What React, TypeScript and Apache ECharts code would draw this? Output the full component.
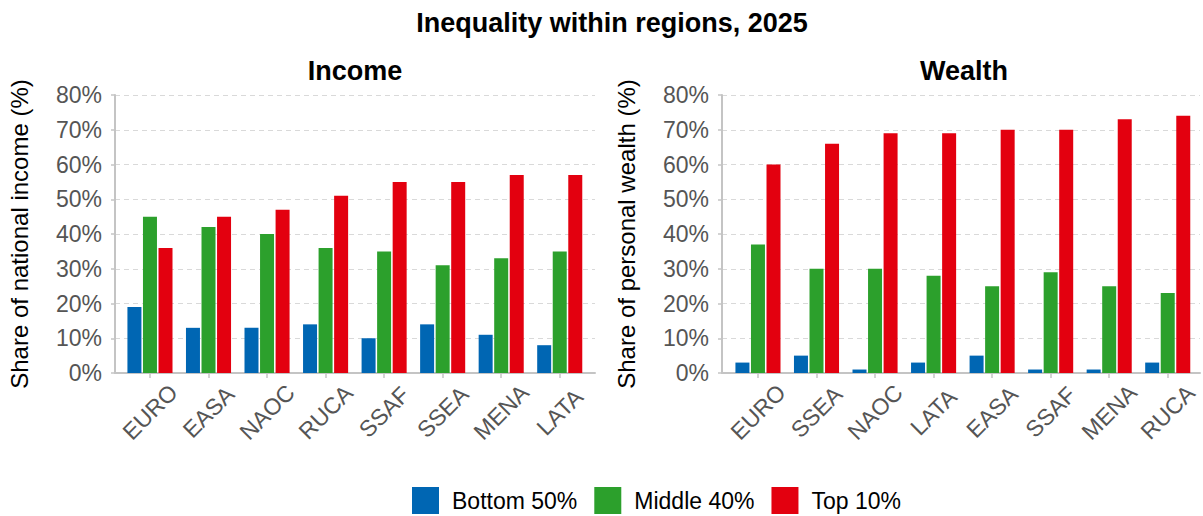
import React, { useEffect, useRef } from "react";
import * as echarts from "echarts";

const incomeRegions = ["EURO", "EASA", "NAOC", "RUCA", "SSAF", "SSEA", "MENA", "LATA"];
const incomeBottom50 = [19, 13, 13, 14, 10, 14, 11, 8];
const incomeMiddle40 = [45, 42, 40, 36, 35, 31, 33, 35];
const incomeTop10 = [36, 45, 47, 51, 55, 55, 57, 57];

const wealthRegions = ["EURO", "SSEA", "NAOC", "LATA", "EASA", "SSAF", "MENA", "RUCA"];
const wealthBottom50 = [3, 5, 1, 3, 5, 1, 1, 3];
const wealthMiddle40 = [37, 30, 30, 28, 25, 29, 25, 23];
const wealthTop10 = [60, 66, 69, 69, 70, 70, 73, 74];

const yTicks = [0, 10, 20, 30, 40, 50, 60, 70, 80];

const seriesNames = ["Bottom 50%", "Middle 40%", "Top 10%"];
const colors = ["#0066b3", "#2ca02c", "#e3000f"];

const FONT = "'Liberation Sans', Arial, sans-serif";

export default function App() {
  const ref = useRef<HTMLDivElement>(null);
  useEffect(() => {
    if (!ref.current) return;
    const chart = echarts.init(ref.current, null, { renderer: "svg" });
    const axisGray = "#c4c4c4";
    const labelGray = "#555555";
    const yMin = yTicks[0];
    const yMax = yTicks[yTicks.length - 1];
    const outerY = (idx: number, name: string) => ({
      type: "value",
      gridIndex: idx,
      min: yMin,
      max: yMax,
      interval: 10,
      name,
      nameLocation: "middle",
      nameGap: 84,
      nameTextStyle: { fontSize: 24, color: "#000", fontFamily: FONT },
      axisLine: { show: true, lineStyle: { color: axisGray, width: 2 } },
      axisTick: { show: true, length: 4, lineStyle: { color: axisGray, width: 1.5 } },
      axisLabel: { formatter: "{value}%", fontSize: 23, color: labelGray, fontFamily: FONT, margin: 13 },
      splitLine: { show: true, lineStyle: { color: "#d9d9d9", type: [5, 4], width: 1 } },
    });
    const innerY = (idx: number) => ({
      type: "value",
      gridIndex: idx,
      min: yMin,
      max: yMax,
      interval: 10,
      show: false,
      splitLine: { show: false },
    });
    const outerX = (idx: number) => ({
      type: "value",
      gridIndex: idx,
      min: 0,
      max: 1,
      axisLine: { show: true, onZero: false, lineStyle: { color: axisGray, width: 2 } },
      axisTick: { show: false },
      axisLabel: { show: false },
      splitLine: { show: false },
    });
    const innerX = (idx: number, data: string[]) => ({
      type: "category",
      gridIndex: idx,
      data,
      axisLine: { show: false },
      axisTick: { show: true, alignWithLabel: true, length: 5, lineStyle: { color: axisGray, width: 1.5 } },
      axisLabel: {
        rotate: 45,
        align: "center",
        verticalAlign: "middle",
        fontSize: 23,
        color: labelGray,
        fontFamily: FONT,
        margin: 39,
        interval: 0,
      },
    });
    const mk = (idx: number, vals: number[][]) =>
      vals.map((v, i) => ({
        name: seriesNames[i],
        type: "bar",
        xAxisIndex: idx,
        yAxisIndex: idx,
        data: v,
        barWidth: 14,
        barGap: "11%",
        itemStyle: { color: colors[i] },
      }));
    chart.setOption({
      animation: false,
      textStyle: { fontFamily: FONT },
      title: [
        { text: "Inequality within regions, 2025", left: 607, textAlign: "center", top: 4, textStyle: { fontSize: 27, fontWeight: "bold", color: "#000", fontFamily: FONT } },
        { text: "Income", left: 350, textAlign: "center", top: 52, textStyle: { fontSize: 27, fontWeight: "bold", color: "#000", fontFamily: FONT } },
        { text: "Wealth", left: 959, textAlign: "center", top: 52, textStyle: { fontSize: 27, fontWeight: "bold", color: "#000", fontFamily: FONT } },
      ],
      legend: {
        top: 482,
        left: 407,
        itemWidth: 27,
        itemHeight: 27,
        itemGap: 17,
        icon: "rect",
        data: seriesNames,
        textStyle: { fontSize: 23, color: "#000", fontFamily: FONT, padding: [0, 0, 0, 8] },
      },
      grid: [
        { left: 115, right: 1203 - 595, top: 95, bottom: 143 },
        { left: 722, right: 3, top: 95, bottom: 143 },
        { left: 120.7, right: 1203 - 589, top: 95, bottom: 143 },
        { left: 728.7, right: 1203 - 1197, top: 95, bottom: 143 },
      ],
      xAxis: [outerX(0), outerX(1), innerX(2, incomeRegions), innerX(3, wealthRegions)],
      yAxis: [
        outerY(0, "Share of national income (%)"),
        outerY(1, "Share of personal wealth (%)"),
        innerY(2),
        innerY(3),
      ],
      series: [
        ...mk(2, [incomeBottom50, incomeMiddle40, incomeTop10]),
        ...mk(3, [wealthBottom50, wealthMiddle40, wealthTop10]),
      ],
    });
    return () => chart.dispose();
  }, []);
  return <div ref={ref} style={{ width: 1203, height: 516, position: "absolute", left: 0, top: 0 }} />;
}
